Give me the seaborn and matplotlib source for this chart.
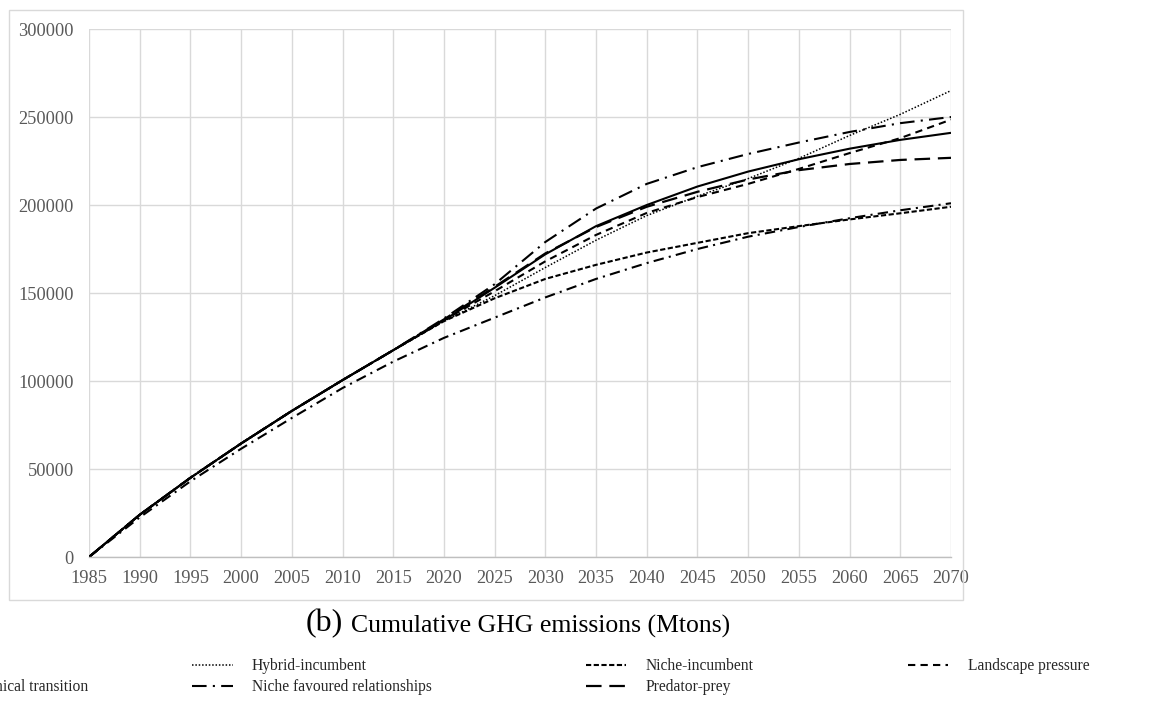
import matplotlib
matplotlib.use("Agg")
import matplotlib.pyplot as plt
import matplotlib.patches as patches
import seaborn as sns
import numpy as np
import pandas as pd

years = [1985, 1990, 1995, 2000, 2005, 2010, 2015, 2020, 2025, 2030,
         2035, 2040, 2045, 2050, 2055, 2060, 2065, 2070]

baseline = [0, 22500, 43000, 61500, 79000, 96000, 111000, 124500, 136000, 147500,
            158000, 167000, 175000, 182000, 187500, 192500, 197000, 201000]
technical = [0, 24000, 45000, 64500, 83000, 100500, 117500, 134500, 153000, 172000,
             188000, 200000, 210500, 219000, 226000, 232000, 237000, 241000]
hybrid = [0, 24000, 45000, 64500, 83000, 100500, 117500, 134000, 148500, 164500,
          180000, 194000, 205000, 215000, 226500, 239500, 251500, 265000]
niche_favoured = [0, 24000, 45000, 64500, 83000, 100500, 117500, 135500, 155000, 179000,
                  198000, 212000, 221500, 229000, 235500, 241500, 246500, 250000]
niche_incumbent = [0, 24000, 45000, 64500, 83000, 100500, 117500, 134000, 147000, 158000,
                   166000, 173000, 178500, 184000, 188000, 191800, 195300, 199000]
predator_prey = [0, 24000, 45000, 64500, 83000, 100500, 117500, 135000, 153500, 172500,
                 187500, 199000, 207500, 214500, 219800, 223300, 225600, 226800]
landscape = [0, 24000, 45000, 64500, 83000, 100500, 117500, 134500, 151000, 168000,
             183000, 195500, 204500, 212000, 220500, 229500, 238000, 248500]

series_names = ["BAU", "Technical transition", "Hybrid-incumbent",
                "Niche favoured relationships", "Niche-incumbent",
                "Predator-prey", "Landscape pressure"]
series_values = [baseline, technical, hybrid, niche_favoured, niche_incumbent,
                 predator_prey, landscape]
x_ticks = list(range(1985, 2071, 5))
y_ticks = [0, 50000, 100000, 150000, 200000, 250000, 300000]
caption_tag = "(b)"
caption_text = "Cumulative GHG emissions (Mtons)"

styles = {
    "BAU": (0, (5, 2.5, 1, 2.5)),
    "Technical transition": "-",
    "Hybrid-incumbent": (0, (1, 1.2)),
    "Niche favoured relationships": (0, (7, 3, 1, 3)),
    "Niche-incumbent": (0, (2.5, 1.2)),
    "Predator-prey": (0, (7, 3.5)),
    "Landscape pressure": (0, (3.5, 2.5)),
}
widths = {
    "BAU": 1.5,
    "Technical transition": 1.5,
    "Hybrid-incumbent": 1.1,
    "Niche favoured relationships": 1.5,
    "Niche-incumbent": 1.5,
    "Predator-prey": 1.6,
    "Landscape pressure": 1.5,
}

sns.set_theme(style="white")
plt.rcParams["font.family"] = ["Liberation Serif", "DejaVu Serif"]

W, H = 1159, 704
fig = plt.figure(figsize=(W / 100, H / 100), dpi=100)
ax = fig.add_axes([89 / W, 1 - 557 / H, (951 - 89) / W, (557 - 29) / H])

handles = {}
for name, vals in zip(series_names, series_values):
    sns.lineplot(x=years, y=vals, ax=ax, color="black", linewidth=widths[name],
                 linestyle=styles[name], legend=False)
    line = ax.lines[-1]
    line.set_label(name)
    line.set_solid_capstyle("butt")
    line.set_dash_capstyle("butt")
    handles[name] = line

ax.set_xlim(1985, 2070)
ax.set_ylim(0, 300000)
ax.set_xticks(x_ticks)
ax.set_yticks(y_ticks)
ax.set_xticklabels([str(t) for t in x_ticks])
ax.set_yticklabels([str(t) for t in y_ticks])
ax.grid(True, color="#d9d9d9", linewidth=1.0)
ax.set_axisbelow(True)
for s in ["top", "right", "left"]:
    ax.spines[s].set_visible(False)
ax.spines["bottom"].set_color("#bfbfbf")
ax.spines["bottom"].set_linewidth(1.0)
ax.tick_params(axis="both", length=0, labelsize=13.2, colors="#595959")
ax.tick_params(axis="y", pad=11)
ax.tick_params(axis="x", pad=9.5)
ax.set_xlabel("")
ax.set_ylabel("")

# outer chart frame
fig.patches.append(patches.Rectangle((9 / W, 1 - 600 / H), (963 - 9) / W, (600 - 10) / H,
                                     transform=fig.transFigure, fill=False,
                                     edgecolor="#d9d9d9", linewidth=1.0))

# caption
fig.text(343 / W, 1 - 624 / H, caption_tag, ha="right", va="center", fontsize=23, color="black")
fig.text(351 / W, 1 - 626 / H, caption_text, ha="left", va="center", fontsize=18.5, color="black")

leg_kw = dict(loc="center", frameon=False, fontsize=11.2, handlelength=2.6,
              handletextpad=1.25, columnspacing=9.9, labelspacing=0.32, borderpad=0)

# first legend column (mostly cut off at the left edge, as in the reference)
order1 = ["BAU", "Technical transition"]
leg1 = fig.legend([handles[n] for n in order1], order1, ncol=1,
                  bbox_to_anchor=(0.0, 1 - 676 / H), **leg_kw)
# remaining columns
order2 = ["Hybrid-incumbent", "Niche favoured relationships", "Niche-incumbent",
          "Predator-prey", "Landscape pressure"]
leg2 = fig.legend([handles[n] for n in order2], order2, ncol=3,
                  bbox_to_anchor=(600 / W, 1 - 676 / H), **leg_kw)

fig.canvas.draw()
renderer = fig.canvas.get_renderer()


def shift(leg, text_idx, anchor_x, ref_x, ref_y, use_right, base_x, base_y):
    bb = leg.get_texts()[text_idx].get_window_extent(renderer)
    cur_x = bb.x1 if use_right else bb.x0
    dx = ref_x - cur_x
    dy = (H - ref_y) - (bb.y0 + bb.y1) / 2
    leg.set_bbox_to_anchor(((base_x + dx) / W, (base_y + dy) / H), transform=fig.transFigure)


shift(leg2, 0, None, 252, 666, False, 600, H - 676)
shift(leg1, 1, None, 88, 687, True, 0, H - 676)

fig.savefig("out.png", dpi=100)
